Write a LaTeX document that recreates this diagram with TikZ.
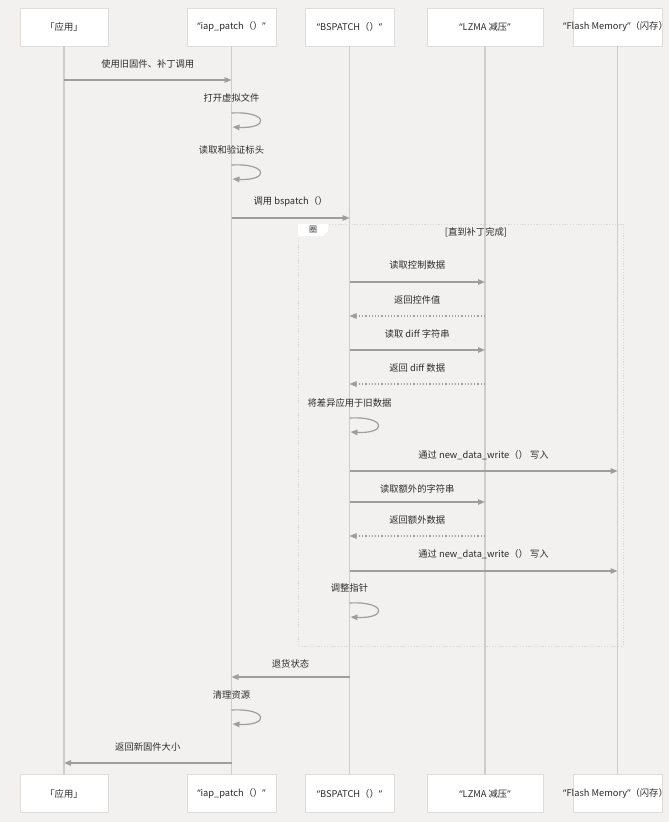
\documentclass[tikz,border=0pt]{standalone}
\usepackage{fontspec}
\setmainfont{Noto Sans CJK SC}
\newfontfamily\qfont{Noto Sans}
\usetikzlibrary{arrows.meta,calc}
\definecolor{bg}{HTML}{F2F1EF}
\definecolor{boxline}{HTML}{DDDDDD}
\definecolor{life}{HTML}{CDCDCD}
\definecolor{arr}{HTML}{9E9E9E}
\definecolor{txt}{HTML}{2B2B2B}
\definecolor{frameline}{HTML}{D8D8D8}
\newcommand\qq[1]{{\qfont “}#1{\qfont ”}}
\tikzset{
  actor/.style={draw=boxline, fill=white, minimum width=89pt, minimum height=38pt,
    inner sep=0pt, font=\fontsize{9.3}{11}\selectfont, text=txt, line width=0.8pt},
  lbl/.style={font=\fontsize{9.3}{11}\selectfont, text=txt, inner sep=0pt},
  lifeline/.style={draw=life, line width=1.4pt},
  msg/.style={draw=arr, line width=1.2pt, -{Triangle[length=7pt,width=5.5pt]}},
  ret/.style={msg, dash pattern=on 1.2pt off 2pt},
  framebox/.style={draw=frameline, line width=0.8pt, dash pattern=on 1.2pt off 1.6pt},
}
% \msg[style]{from}{to}{arrow y}{label name}{label y}{text}
\newcommand\msg[7][msg]{%
  \path let \p1=(#2), \p2=(#3) in node[lbl] (#5) at ({(\x1+\x2)/2},-#6pt) {#7};
  \draw[#1] let \p1=(#2), \p2=(#3) in (\x1,-#4pt) -- (\x2,-#4pt);}
% \selfmsg{node}{loop top y}{label name}{label y}{text}
\newcommand\selfmsg[5]{%
  \path let \p1=(#1) in node[lbl] (#3) at (\x1,-#4pt) {#5};
  \draw[msg] let \p1=(#1) in (\x1,-#2pt) .. controls +(37pt,2pt) and +(37pt,-2pt) .. (\x1+1pt,-#2pt-14pt);}
\begin{document}
\begin{tikzpicture}[x=1pt,y=-1pt]
\useasboundingbox[fill=bg] (0,0) rectangle (669,822);

% loop frame
\draw[framebox] (298,224) rectangle (623,646);
\fill[white] (298,224) -- (328,224) -- (328,231) -- (323,236) -- (298,236) -- cycle;
\node[lbl, font=\fontsize{8}{9}\selectfont] (looptag) at (313,230) {圈};
\node[lbl] (loopcond) at (476,232) {[直到补丁完成]};

% actors (top)
\node[actor, minimum width=88pt] (app) at (64,27) {「应用」};
\node[actor] (iap) at (231.5,27) {\qq{iap\_patch（）}};
\node[actor] (bsp) at (349.5,27) {\qq{BSPATCH（）}};
\node[actor, minimum width=116pt] (lzma) at (485,27) {\qq{LZMA 减压}};
\node[actor] (flash) at (617.5,27) {};
\node[lbl] (flasht) at (615.5,27) {\qq{Flash Memory}（闪存）};
% actors (bottom)
\node[actor, minimum width=88pt] (appB) at (64,793.5) {「应用」};
\node[actor] (iapB) at (231.5,793.5) {\qq{iap\_patch（）}};
\node[actor] (bspB) at (349.5,793.5) {\qq{BSPATCH（）}};
\node[actor, minimum width=116pt] (lzmaB) at (485,793.5) {\qq{LZMA 减压}};
\node[actor] (flashB) at (617.5,793.5) {};
\node[lbl] (flashBt) at (615.5,793.5) {\qq{Flash Memory}（闪存）};

% lifelines
\draw[lifeline] (app.south) -- (appB.north);
\draw[lifeline] (iap.south) -- (iapB.north);
\draw[lifeline] (bsp.south) -- (bspB.north);
\draw[lifeline] (lzma.south) -- (lzmaB.north);
\draw[lifeline] (flash.south) -- (flashB.north);

% messages
\msg{app}{iap}{80}{l1}{64}{使用旧固件、补丁调用}
\selfmsg{iap}{113}{l2}{98}{打开虚拟文件}
\selfmsg{iap}{165}{l3}{150}{读取和验证标头}
\msg{iap}{bsp}{218}{l4}{202}{调用 bspatch（）}
\msg{bsp}{lzma}{282}{l5}{265}{读取控制数据}
\msg[ret]{lzma}{bsp}{316}{l6}{300}{返回控件值}
\msg{bsp}{lzma}{350}{l7}{334}{读取 diff 字符串}
\msg[ret]{lzma}{bsp}{384}{l8}{368}{返回 diff 数据}
\selfmsg{bsp}{418}{l9}{403}{将差异应用于旧数据}
\msg{bsp}{flash}{471}{l10}{455}{通过 new\_data\_write（） 写入}
\msg{bsp}{lzma}{502}{l11}{489}{读取额外的字符串}
\msg[ret]{lzma}{bsp}{536}{l12}{520}{返回额外数据}
\msg{bsp}{flash}{571}{l13}{554}{通过 new\_data\_write（） 写入}
\selfmsg{bsp}{603}{l14}{588}{调整指针}
\msg{bsp}{iap}{677}{l15}{664}{退货状态}
\selfmsg{iap}{710}{l16}{695}{清理资源}
\msg{iap}{app}{763}{l17}{747}{返回新固件大小}
\end{tikzpicture}
\end{document}
